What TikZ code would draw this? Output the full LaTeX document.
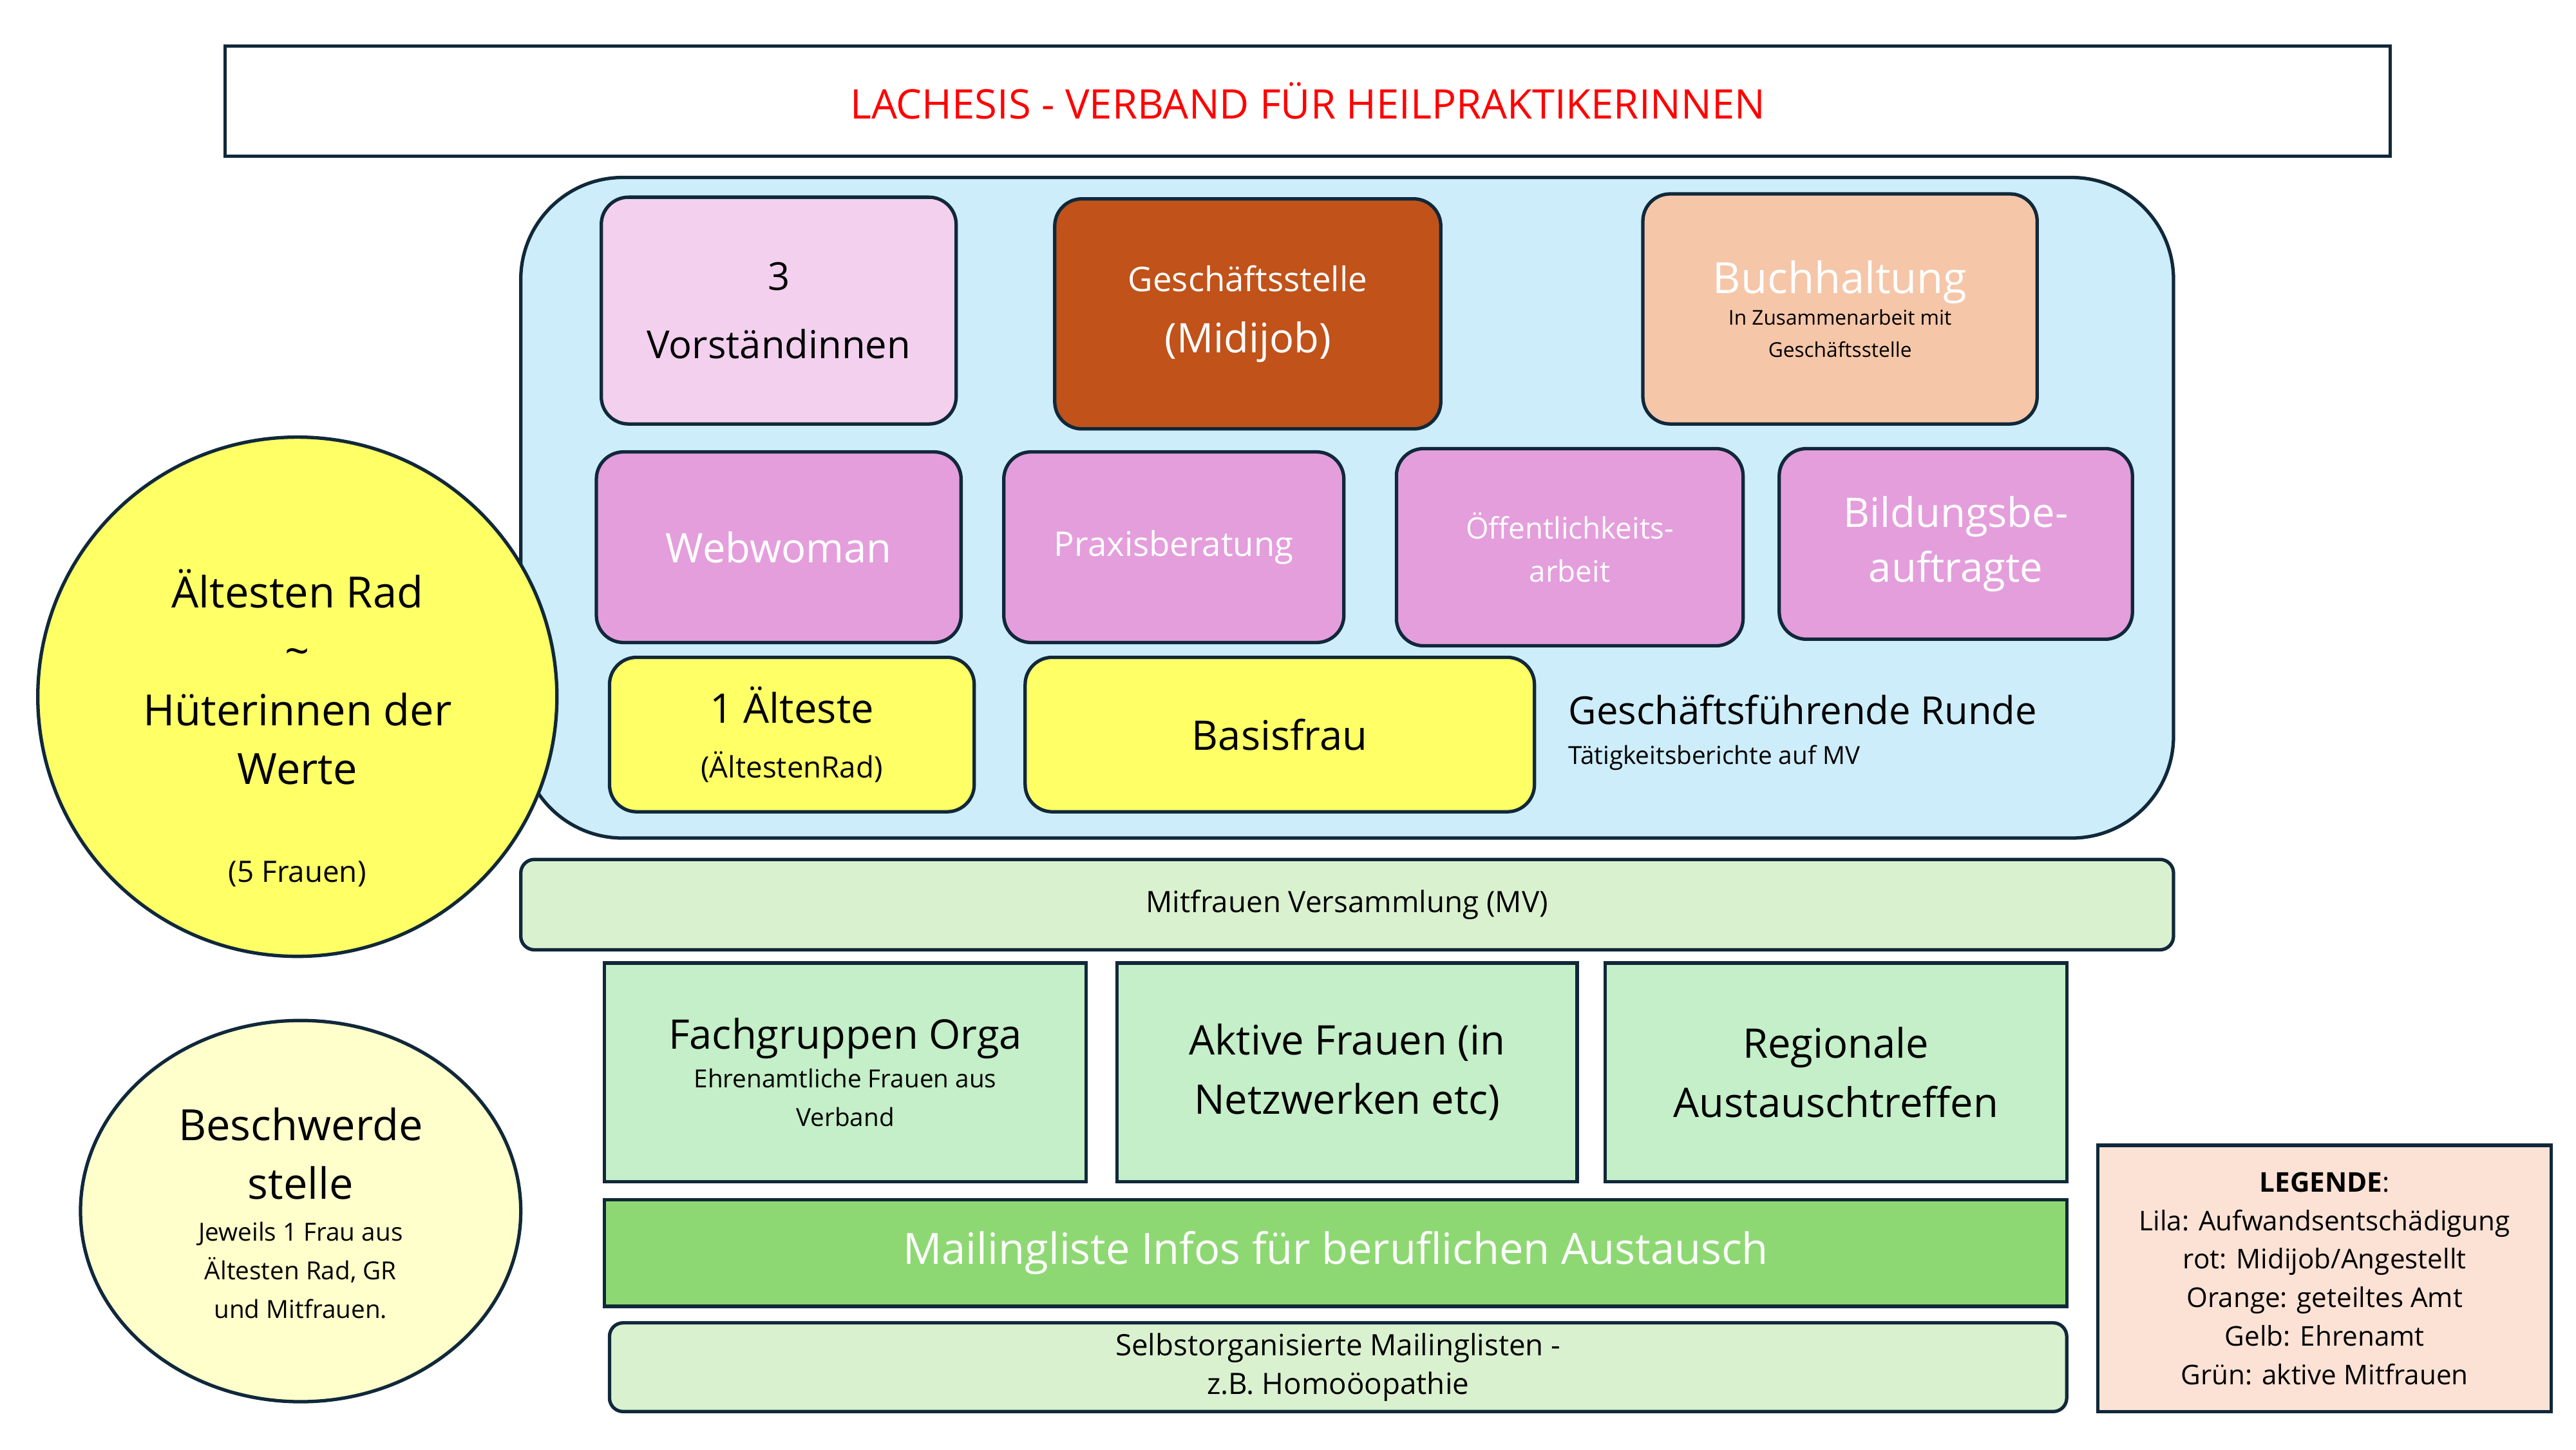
\documentclass[tikz,border=0pt]{standalone}
\usepackage{fontspec}
\setmainfont{Open Sans}
\usetikzlibrary{shapes.geometric}
\definecolor{navy}{HTML}{10283A}
\definecolor{skyb}{HTML}{CDEDFA}
\definecolor{lila}{HTML}{E49EDC}
\definecolor{lilal}{HTML}{F2D0EE}
\definecolor{rost}{HTML}{C0521A}
\definecolor{peach}{HTML}{F5C6A8}
\definecolor{gelb}{HTML}{FFFF66}
\definecolor{gelbl}{HTML}{FFFFCC}
\definecolor{gruenl}{HTML}{DAF1D0}
\definecolor{gruen}{HTML}{C4EFC8}
\definecolor{gruend}{HTML}{8ED873}
\definecolor{legbg}{HTML}{FBE2D5}
\begin{document}
\begin{tikzpicture}[x=0.0255cm,y=-0.0255cm,every text node part/.style={align=center},
  box/.style={draw=navy,line width=1.5pt,rounded corners=12pt},
  sq/.style={draw=navy,line width=1.5pt}]

\useasboundingbox (0,0) rectangle (1568,882);

%%%%%%%%%%%%%%%%%%%%%%%%%%%%%%%%%%%%%%

\draw [sq] (137,28) rectangle node[text=red,font=\fontsize{18}{22}\selectfont] (title) {LACHESIS - VERBAND FÜR HEILPRAKTIKERINNEN} (1455,95);

\draw [sq,fill=skyb,rounded corners=45pt] (317,108) rectangle (1323,510);

\draw [box,fill=lilal] (366,120) rectangle node[font=\fontsize{17}{30}\selectfont] (vor) {3\\Vorständinnen} (582,258);
\draw [box,fill=rost] (642,121) rectangle node[text=white,font=\fontsize{15}{27}\selectfont] (gs) {Geschäftsstelle\\{\fontsize{18}{22}\selectfont(Midijob)}} (877,261);
\draw [box,fill=peach] (1000,118) rectangle node[font=\fontsize{9}{14}\selectfont] (bh) {{\color{white}\fontsize{19}{28}\selectfont Buchhaltung}\\In Zusammenarbeit mit\\Geschäftsstelle} (1240,258);

\draw [box,fill=lila] (363,275) rectangle node[text=white,font=\fontsize{18}{22}\selectfont] (web) {Webwoman} (585,391);
\draw [box,fill=lila] (611,275) rectangle node[text=white,font=\fontsize{15}{22}\selectfont] (praxis) {Praxisberatung} (818,391);
\draw [box,fill=lila] (850,273) rectangle node[text=white,font=\fontsize{13}{19}\selectfont] (oeff) {Öffentlichkeits-\\arbeit} (1061,393);
\draw [box,fill=lila] (1083,273) rectangle node[text=white,font=\fontsize{18}{24}\selectfont] (bild) {Bildungsbe-\\auftragte} (1298,389);

\draw [box,fill=gelb] (371,400) rectangle node[font=\fontsize{18}{24}\selectfont] (alt) {1 Älteste\\{\fontsize{13}{16}\selectfont(ÄltestenRad)}} (593,494);
\draw [box,fill=gelb] (624,400) rectangle node[font=\fontsize{18}{22}\selectfont] (basis) {Basisfrau} (934,494);

\node [anchor=west,font=\fontsize{17}{20}\selectfont] (gfr) at (950,432) {Geschäftsführende Runde};
\node [anchor=west,font=\fontsize{11}{14}\selectfont] (tb) at (950,461) {Tätigkeitsberichte auf MV};

%%%%%%%%%%%%%%%%%%%%%%%%%%%%%%%%%%%%%%

\draw [sq,fill=gelb] (181,424) circle (158);
\node [font=\fontsize{19}{26}\selectfont] (rad) at (181,412) {Ältesten Rad\\\char`~\\Hüterinnen der\\Werte};
\node [font=\fontsize{13}{16}\selectfont] (fuenf) at (181,532) {(5 Frauen)};

\draw [sq,fill=gelbl] (183,737) ellipse (134 and 116);
\node [font=\fontsize{19}{26}\selectfont] (bes) at (183,702) {Beschwerde\\stelle};
\node [font=\fontsize{11}{17}\selectfont] (besx) at (183,773) {Jeweils 1 Frau aus\\Ältesten Rad, GR\\und Mitfrauen.};

%%%%%%%%%%%%%%%%%%%%%%%%%%%%%%%%%%%%%%

\draw [box,rounded corners=6pt,fill=gruenl] (317,523) rectangle node[font=\fontsize{13}{16}\selectfont] (mv) {Mitfrauen Versammlung (MV)} (1323,578);

\draw [sq,fill=gruen] (368,586) rectangle node[font=\fontsize{11}{17}\selectfont] (fach) {{\fontsize{18}{24}\selectfont Fachgruppen Orga}\\Ehrenamtliche Frauen aus\\Verband} (661,719);
\draw [sq,fill=gruen] (680,586) rectangle node[font=\fontsize{18}{26}\selectfont] (aktiv) {Aktive Frauen (in\\Netzwerken etc)} (960,719);
\draw [sq,fill=gruen] (977,586) rectangle node[font=\fontsize{18}{26}\selectfont] (reg) {Regionale\\Austauschtreffen} (1258,719);

\draw [sq,fill=gruend] (368,730) rectangle node[text=white,font=\fontsize{19}{22}\selectfont] (mail) {Mailingliste Infos für beruflichen Austausch} (1258,795);
\draw [box,rounded corners=6pt,fill=gruenl] (371,805) rectangle node[font=\fontsize{13}{17}\selectfont] (selbst) {Selbstorganisierte Mailinglisten -\\z.B. Homoöopathie} (1258,859);

\draw [sq,fill=legbg] (1277,697) rectangle node[font=\fontsize{12}{17}\selectfont] (leg) {\textbf{LEGENDE}:\\Lila: Aufwandsentschädigung\\rot: Midijob/Angestellt\\Orange: geteiltes Amt\\Gelb: Ehrenamt\\Grün: aktive Mitfrauen} (1553,859);

\end{tikzpicture}
\end{document}
